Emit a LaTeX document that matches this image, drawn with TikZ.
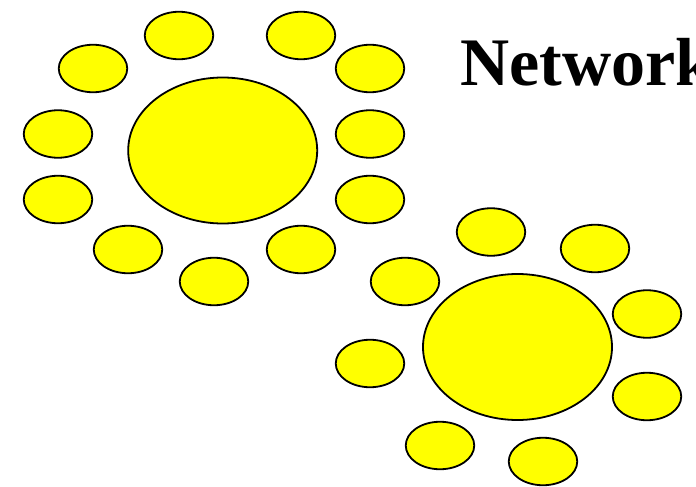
\documentclass[tikz,border=0pt]{standalone}
\usepackage{fontspec}
\setmainfont{Liberation Serif}
\usetikzlibrary{shapes.geometric}
\definecolor{sunyellow}{RGB}{255,255,0}
\tikzset{
  blob/.style={ellipse, draw=black, fill=sunyellow, line width=1.8pt, inner sep=0pt},
  small/.style={blob, minimum width=68.5pt, minimum height=47.5pt},
  big/.style={blob, minimum width=189pt, minimum height=146pt},
}
\begin{document}
\begin{tikzpicture}[x=1pt,y=-1pt]
\useasboundingbox (0,0) rectangle (696,487);
\clip (0,0) rectangle (696,487);
% group 1
\node[big] (h1) at (222.7,150.5) {};
\node[small] (a1) at (179,35.5) {};
\node[small] (a2) at (301,35.5) {};
\node[small] (a3) at (93,68.5) {};
\node[small] (a4) at (370,68.5) {};
\node[small] (a5) at (58,134) {};
\node[small] (a6) at (370,134) {};
\node[small] (a7) at (58,199.5) {};
\node[small] (a8) at (370,199.5) {};
\node[small] (a9) at (128,249.5) {};
\node[small] (a10) at (301,249.5) {};
\node[small] (a11) at (214,281.5) {};
% group 2
\node[big] (h2) at (517.5,347) {};
\node[small] (b1) at (491,232) {};
\node[small] (b2) at (595,248.5) {};
\node[small] (b3) at (405,281.5) {};
\node[small] (b4) at (647,314) {};
\node[small] (b5) at (370,363.5) {};
\node[small] (b6) at (647,396.5) {};
\node[small] (b7) at (440,445.5) {};
\node[small] (b8) at (543,461.5) {};
% title
\node[anchor=base west, inner sep=0pt, font=\fontsize{68}{80}\selectfont\bfseries] (t) at (460.5,85.7) {Network};
\end{tikzpicture}
\end{document}
